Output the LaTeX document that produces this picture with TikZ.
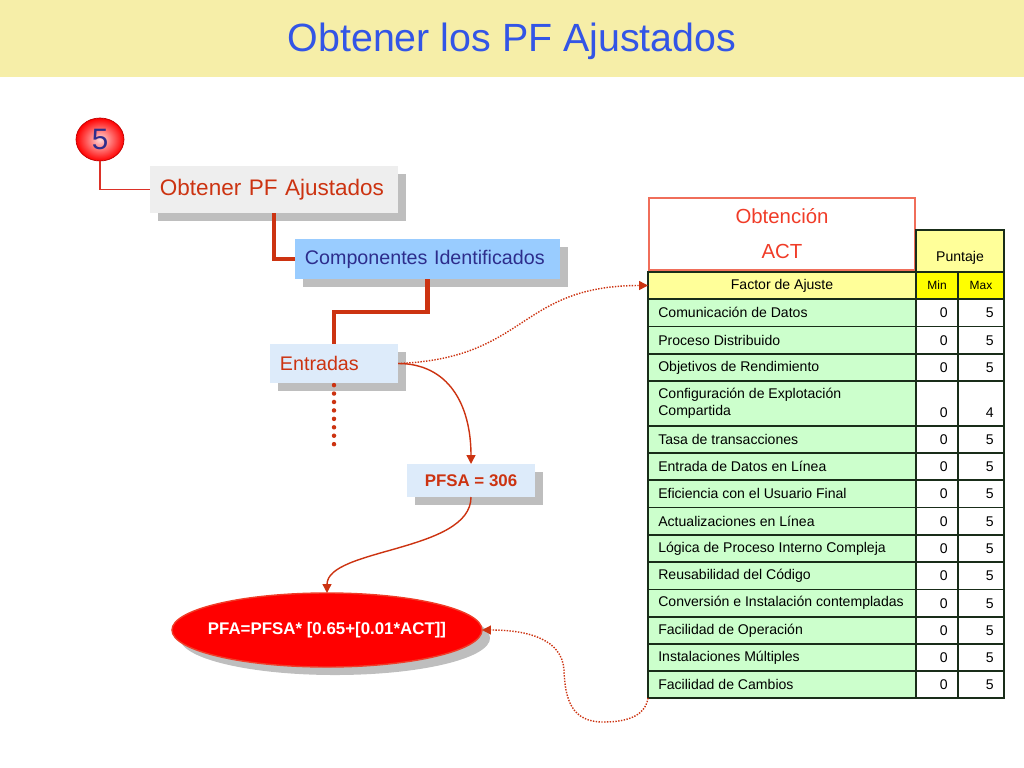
\documentclass[tikz,border=0pt]{standalone}
\usepackage{fontspec}
\setmainfont{Liberation Sans}
\usetikzlibrary{positioning, calc, shapes.geometric, shadows, arrows.meta}
\usepackage{color}
\definecolor{fondotitulo}{RGB}{246,238,168}
\definecolor{azultitulo}{RGB}{51,85,230}
\definecolor{rojoteja}{RGB}{204,51,17}
\definecolor{rojofino}{RGB}{220,50,40}
\definecolor{azulcaja}{RGB}{153,204,255}
\definecolor{celeste}{RGB}{221,235,250}
\definecolor{grisclaro}{RGB}{238,238,238}
\definecolor{sombra}{RGB}{190,190,190}
\definecolor{azuloscuro}{RGB}{45,45,140}
\definecolor{verdeclaro}{RGB}{204,255,204}
\definecolor{amarilloclaro}{RGB}{255,255,153}
\definecolor{amarillo}{RGB}{255,255,0}
\definecolor{borde}{RGB}{25,45,25}
\definecolor{salmon}{RGB}{240,110,90}
\definecolor{rojoact}{RGB}{240,60,40}

\begin{document}
\begin{tikzpicture}[x=0.025cm, y=-0.025cm,
    caja/.style={rectangle, inner xsep=0.25cm, inner ysep=0pt, outer sep=0pt, align=left,
        drop shadow={shadow xshift=0.2cm, shadow yshift=-0.2cm, fill=sombra, opacity=1}},
    grueso/.style={draw=rojoteja, line width=3.5pt},
    flecha/.style={draw=rojoteja, line width=1pt, -{Triangle[length=2.2mm, width=2.2mm]}},
    flechapuntos/.style={flecha, densely dotted},
    celda/.style={draw=borde, line width=1pt, rectangle, inner sep=0pt, outer sep=0pt, anchor=north west},
    letra/.style={inner sep=0pt, font=\fontsize{10}{12}\selectfont},
    chica/.style={font=\fontsize{8.5}{10}\selectfont}]
    \useasboundingbox (0,0) rectangle (1024,768);
    % banda del titulo
    \fill[fondotitulo] (0,0) rectangle (1024,77);
    \node[text=azultitulo, font=\fontsize{28}{34}\selectfont] (titulo) at (512,41) {Obtener los PF Ajustados};
    % circulo del paso
    \node[ellipse, minimum width=1.2cm, minimum height=1.075cm, draw=red!75!black, line width=0.5pt,
        inner color=red!15, outer color=red, text=azuloscuro, font=\fontsize{21}{24}\selectfont] (paso) at (100,139.5) {5};
    % cajas
    \node[caja, fill=grisclaro, text width=5.7cm, minimum height=1.175cm, text=rojoteja,
        font=\fontsize{16}{19}\selectfont] (obtener) at (274,189.5) {Obtener PF Ajustados};
    \node[caja, fill=azulcaja, text width=6.125cm, minimum height=1cm, text=azuloscuro,
        font=\fontsize{14}{17}\selectfont] (componentes) at (427.5,259) {Componentes Identificados};
    \node[caja, fill=celeste, text width=2.7cm, minimum height=0.975cm, text=rojoteja,
        font=\fontsize{14}{17}\selectfont] (entradas) at (334,363.5) {Entradas};
    \node[caja, fill=celeste, align=center, minimum width=3.2cm, minimum height=0.825cm, text=rojoteja,
        font=\bfseries\fontsize{12}{14}\selectfont] (pfsa) at (471,480.5) {PFSA = 306};
    \node[caja, ellipse, fill=red, draw=rojoact, line width=1pt, inner sep=0pt, minimum width=7.75cm,
        minimum height=1.85cm] (pfa) at (327,630) {};
    \node[text=white, font=\bfseries\fontsize{12}{14}\selectfont] (txtpfa) at (pfa.center) {PFA=PFSA* [0.65+[0.01*ACT]]};
    % conectores del arbol
    \draw[rojofino, line width=0.8pt] (paso.south) |- (obtener.west);
    \draw[grueso] (obtener.south) |- (componentes.west);
    \draw[grueso] (componentes.south) -- ++(0,33) -| (entradas.north);
    % puntos bajo entradas
    \coordinate (finentradas) at (334,445);
    \draw[rojoteja, line width=3.2pt, line cap=round, dash pattern=on 0pt off 6pt]
        ([yshift=-1.5pt]entradas.south) -- (finentradas);
    % cabecera de la tabla
    \node[draw=salmon, line width=0.8pt, minimum width=6.65cm, minimum height=1.8cm, align=center,
        text=rojoact, font=\fontsize{14.5}{25}\selectfont] (obtencion) at (782,234) {Obtención\\ACT};
    \node[celda, fill=amarilloclaro, minimum width=2.2cm, minimum height=1.05cm] (puntaje) at (916,230) {};
    \node[letra] (txtpuntaje) at (960,258) {Puntaje};
    \node[celda, fill=amarilloclaro, minimum width=6.7cm, minimum height=0.675cm,
        font=\fontsize{10}{12}\selectfont] (factor) at (648,272) {Factor de Ajuste};
    \node[celda, fill=amarillo, minimum width=1.05cm, minimum height=0.675cm, chica] (min) at (916,272) {Min};
    \node[celda, fill=amarillo, minimum width=1.15cm, minimum height=0.675cm, chica] (max) at (958,272) {Max};
    % filas de la tabla
    \foreach \i/\ya/\yb/\texto/\maximo in {
        1/299/326.5/{Comunicación de Datos}/5,
        2/326.5/354/{Proceso Distribuido}/5,
        3/354/381/{Objetivos de Rendimiento}/5,
        4/381/426/{Configuración de Explotación\\Compartida}/4,
        5/426/453/{Tasa de transacciones}/5,
        6/453/480/{Entrada de Datos en Línea}/5,
        7/480/507.5/{Eficiencia con el Usuario Final}/5,
        8/507.5/535/{Actualizaciones en Línea}/5,
        9/535/562/{Lógica de Proceso Interno Compleja}/5,
        10/562/589.5/{Reusabilidad del Código}/5,
        11/589.5/617/{Conversión e Instalación contempladas}/5,
        12/617/644/{Facilidad de Operación}/5,
        13/644/671/{Instalaciones Múltiples}/5,
        14/671/698/{Facilidad de Cambios}/5} {
        \node[celda, fill=verdeclaro, minimum width=6.7cm, minimum height={(\yb-\ya)*0.025cm}] (fila\i) at (648,\ya) {};
        \node[celda, fill=white, minimum width=1.05cm, minimum height={(\yb-\ya)*0.025cm}] (colmin\i) at (916,\ya) {};
        \node[celda, fill=white, minimum width=1.15cm, minimum height={(\yb-\ya)*0.025cm}] (colmax\i) at (958,\ya) {};
        \node[letra, anchor=west, align=left] (txt\i) at ([xshift=0.25cm]fila\i.west) {\texto};
        \node[letra, anchor=east] (cero\i) at (948,\yb-13.5) {0};
        \node[letra, anchor=east] (tope\i) at (994,\yb-13.5) {\maximo};
    }
    % flechas curvas
    \draw[flecha] (entradas.east) .. controls +(50,0) and +(0,-60) .. (pfsa.north);
    \draw[flecha] (pfsa.south) .. controls +(0,55) and +(0,-45) .. (pfa.north);
    \draw[flechapuntos] (entradas.east) .. controls +(130,-5) and +(-130,0) .. (factor.west);
    \draw[flechapuntos] (fila14.south west) .. controls +(-3,20) and +(20,0) .. (603,722)
        .. controls (572,722) and (565,700) .. (564,670)
        .. controls (562,640) and (530,630) .. (pfa.east);
\end{tikzpicture}
\end{document}
